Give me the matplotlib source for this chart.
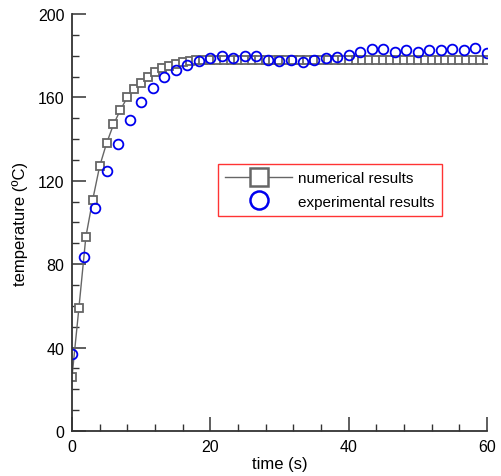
import matplotlib
matplotlib.use("Agg")
import matplotlib.pyplot as plt
from matplotlib.lines import Line2D
from matplotlib.ticker import MultipleLocator

plt.rcParams['font.family'] = ['Liberation Sans', 'DejaVu Sans']

# numerical results, one point per second
num_time = list(range(0, 61))
num_temp = [26, 59, 93, 111, 127, 138, 147, 154, 160, 164,
            167, 170, 172, 174, 175, 176, 177, 177.5, 178] + [178] * 42

# experimental results
exp_time = [0, 1.67, 3.33, 5, 6.67, 8.33, 10, 11.67, 13.33, 15, 16.67, 18.33,
            20, 21.67, 23.33, 25, 26.67, 28.33, 30, 31.67, 33.33, 35, 36.67, 38.33,
            40, 41.67, 43.33, 45, 46.67, 48.33, 50, 51.67, 53.33, 55, 56.67, 58.33, 60]
exp_temp = [37, 83.5, 107, 124.5, 137.5, 149, 158, 164.5, 170, 173, 175.5, 177.5,
            179, 180, 179, 180, 180, 178, 177.5, 178, 177, 178, 179, 179.5,
            180.5, 182, 183, 183, 182, 182.5, 182, 182.5, 182.5, 183, 182.5, 183.5, 181.5]

gray = '#666666'
blue = '#0000ee'

fig = plt.figure(figsize=(5.01, 4.77), dpi=100)
ax = fig.add_axes([0.1437, 0.0943, 0.8283, 0.8743])

ax.plot(num_time, num_temp, color=gray, lw=1.0, marker='s', ms=6,
        mfc='white', mec=gray, mew=1.3)
ax.plot(exp_time, exp_temp, ls='none', marker='o', ms=7,
        mfc='none', mec=blue, mew=1.3)

ax.set_xlim(0, 60)
ax.set_ylim(0, 200)
ax.xaxis.set_major_locator(MultipleLocator(20))
ax.xaxis.set_minor_locator(MultipleLocator(4))
ax.yaxis.set_major_locator(MultipleLocator(40))
ax.yaxis.set_minor_locator(MultipleLocator(10))

for s in ['top', 'right']:
    ax.spines[s].set_visible(False)
for s in ['left', 'bottom']:
    ax.spines[s].set_color('#333333')
    ax.spines[s].set_linewidth(1.3)

ax.tick_params(which='both', direction='in', color='#333333', labelsize=11.5)
ax.tick_params(which='major', length=10, width=1.1, pad=5.5)
ax.tick_params(which='minor', length=5, width=1.0)

ax.set_xlabel('time (s)', fontsize=12, labelpad=2)
ax.set_ylabel('temperature (ºC)', fontsize=12, labelpad=7)

# legend with bigger markers than the plot
handles = [
    Line2D([], [], color=gray, lw=1.0, marker='s', ms=13, mfc='white', mec=gray, mew=1.8),
    Line2D([], [], ls='none', marker='o', ms=13, mfc='none', mec=blue, mew=1.8),
]
labels = ['numerical results', 'experimental results']
leg = ax.legend(handles, labels, loc='center', mode='expand',
                bbox_to_anchor=(0.352, 0.513, 0.54, 0.13), borderaxespad=0,
                fontsize=11, frameon=True, fancybox=False,
                handlelength=4.4, handletextpad=0.4, borderpad=0.45,
                labelspacing=0.63)
leg.get_frame().set_edgecolor('#ff0000')
leg.get_frame().set_linewidth(1.0)

fig.savefig('out.png', dpi=100)
